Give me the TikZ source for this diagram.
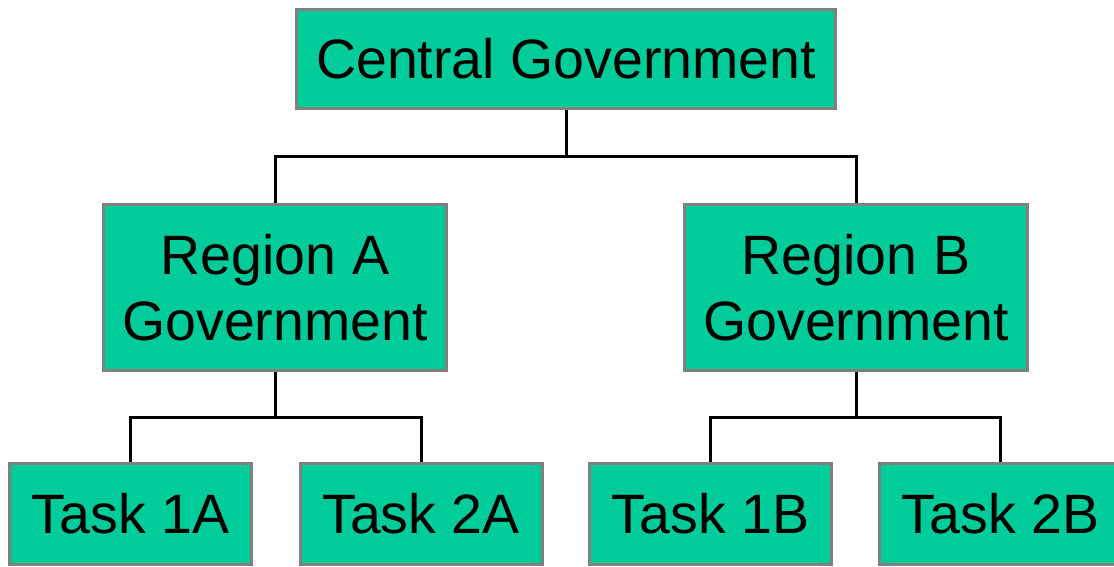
\documentclass[tikz,border=0pt]{standalone}
\usepackage{fontspec}
\setmainfont{Liberation Sans}
\begin{document}
\begin{tikzpicture}[x=1pt,y=-1pt,
  orgbox/.style={draw=boxgray, fill=boxgreen, line width=3pt, inner sep=0pt,
    align=center, font=\fontsize{55.5}{66}\selectfont},
  topbox/.style={orgbox, minimum width=539pt, minimum height=99pt},
  regbox/.style={orgbox, minimum width=343pt, minimum height=166pt},
  taskbox/.style={orgbox, minimum width=242pt, minimum height=101pt},
  link/.style={draw=black, line width=3pt}]
\definecolor{boxgreen}{RGB}{0,204,153}
\definecolor{boxgray}{RGB}{128,128,128}
\useasboundingbox (0,0) rectangle (1114,567);

% tree nodes
\node[topbox]  (cg) at (566,59)      {Central Government};
\node[regbox]  (ra) at (275,287.5)   {Region A\\Government};
\node[regbox]  (rb) at (856,287.5)   {Region B\\Government};
\node[taskbox] (t1a) at (130.5,514)  {Task 1A};
\node[taskbox] (t2a) at (421,514)    {Task 2A};
\node[taskbox] (t1b) at (710.5,514)  {Task 1B};
\node[taskbox] (t2b) at (1000.5,514) {Task 2B};

% bus bars
\coordinate (busc) at (566,157);
\coordinate (busa) at (275,417);
\coordinate (busb) at (856,417);

% connectors
\draw[link] (cg.south) -- (busc);
\draw[link] (busc) -| (ra.north);
\draw[link] (busc) -| (rb.north);
\draw[link] (ra.south) -- (busa);
\draw[link] (busa) -| (t1a.north);
\draw[link] (busa) -| (t2a.north);
\draw[link] (rb.south) -- (busb);
\draw[link] (busb) -| (t1b.north);
\draw[link] (busb) -| (t2b.north);
\end{tikzpicture}
\end{document}
